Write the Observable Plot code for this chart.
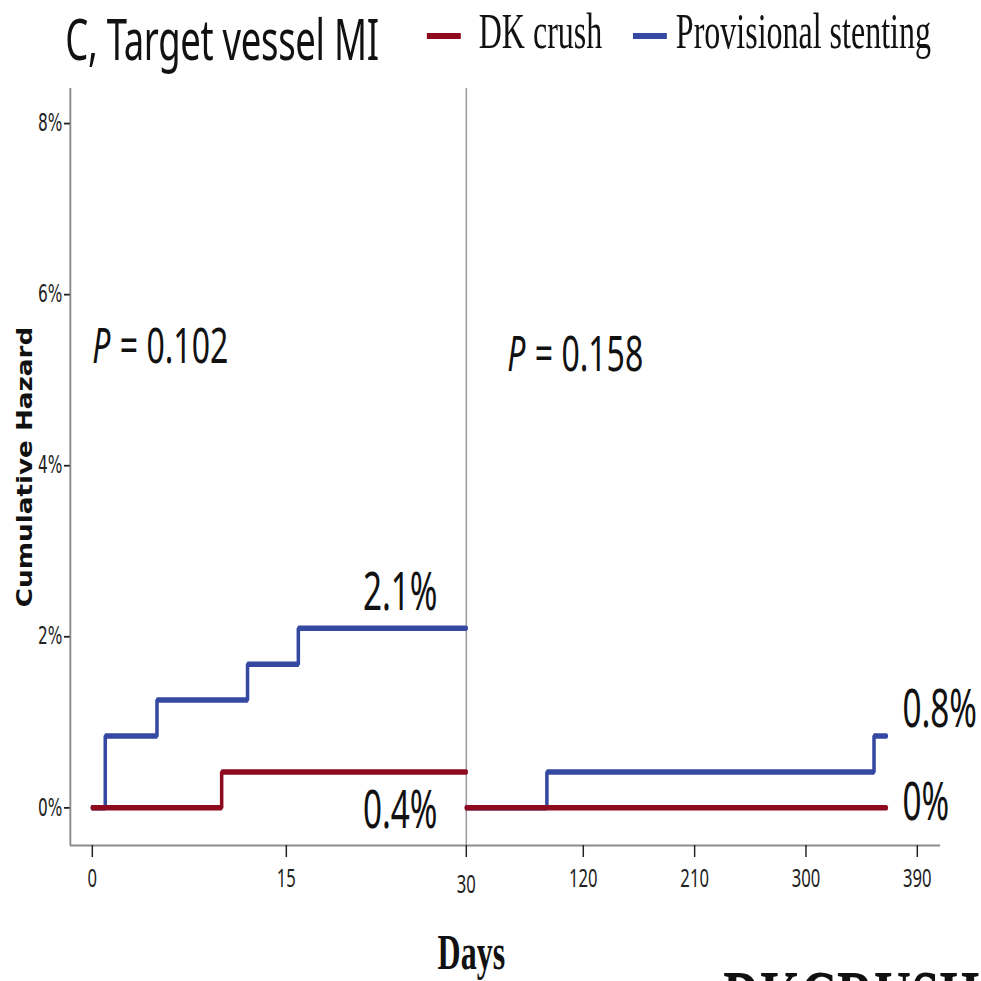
<!DOCTYPE html>
<html>
<head>
<meta charset="utf-8">
<script src="https://cdn.jsdelivr.net/npm/d3@7"></script>
<script src="https://cdn.jsdelivr.net/npm/@observablehq/plot@0.6"></script>
<style>
  html, body { margin: 0; padding: 0; background: #fff; overflow: hidden; }
  #page { width: 981px; height: 981px; overflow: hidden; position: relative; background: #fff; }
  /* the original figure is horizontally compressed: draw wide, then squeeze */
  #wrap { position: absolute; left: 0; top: 0; width: 1533px; height: 981px;
          transform: scaleX(0.64); transform-origin: 0 0; }
  #header { position: relative; height: 80px; }
  .t { position: absolute; white-space: nowrap; color: #111; }
  #title { left: 102px; top: 1px; font-family: "Noto Sans", sans-serif; font-size: 57px;
           line-height: 1.3; letter-spacing: -0.5px; }
  .sw { position: absolute; width: 53px; height: 6px; top: 33px; }
  .lab { position: absolute; top: -1px; font-family: "Liberation Serif", "Times New Roman", serif;
         font-size: 50px; line-height: 1.3; color: #111; white-space: nowrap; }
  #foot { left: 1130px; top: 947px; font-family: "Liberation Serif", serif; font-weight: bold;
          font-size: 80px; line-height: 1.3; color: #111; }
</style>
</head>
<body>
<div id="page"><div id="wrap">
  <div id="header">
    <span class="t" id="title">C, Target vessel MI</span>
  </div>
  <div id="chart"></div>
  <span class="t" id="foot">DKCRUSH</span>
</div></div>
<script>
// ---------------- data ----------------
const seriesNames  = ["DK crush", "Provisional stenting"];
const seriesColors = ["#8e0a1e", "#3548a2"];

// Panel 1: 0–30 days (cumulative hazard, %)
const p1DaysDK = [0, 10, 30];
const p1HazDK  = [0, 0.42, 0.42];
const p1DaysPS = [0, 1, 5, 12, 16, 30];
const p1HazPS  = [0, 0.84, 1.26, 1.68, 2.10, 2.10];

// Panel 2: 30–365 days
const p2DaysDK = [30, 365];
const p2HazDK  = [0, 0];
const p2DaysPS = [30, 92, 355, 365];
const p2HazPS  = [0, 0.42, 0.84, 0.84];

const pValues = ["0.102", "0.158"];
const xTicks  = [0, 15, 30, 120, 210, 300, 390];
const yTicks  = [0, 2, 4, 6, 8];

// ---------------- layout ----------------
// broken (piecewise) day axis: 0–30 on the left panel, 30–390 on the right
const xDomain = [-1.7, 0, 15, 30, 120, 390, 408.6];
const xRange  = [109.4, 143.75, 446.9, 728.1, 910.9, 1432.8, 1468.75];
const yDomain = [-0.44, 8.41];

const W = 1533, H = 901;
const fmtPct = v => (v === 0 ? "0" : v.toFixed(1)) + "%";

// legend (positions in the unsqueezed header)
const header = document.getElementById("header");
const swatchLeft = [667, 989], labelLeft = [748, 1056];
seriesNames.forEach((name, i) => {
  const sw = document.createElement("div");
  sw.className = "sw";
  sw.style.left = swatchLeft[i] + "px";
  sw.style.background = seriesColors[i];
  const lb = document.createElement("span");
  lb.className = "lab";
  lb.style.left = labelLeft[i] + "px";
  lb.textContent = name;
  header.append(sw, lb);
});

const segs = [
  {panel: 1, s: 1, days: p1DaysPS, haz: p1HazPS},
  {panel: 2, s: 1, days: p2DaysPS, haz: p2HazPS},
  {panel: 1, s: 0, days: p1DaysDK, haz: p1HazDK},
  {panel: 2, s: 0, days: p2DaysDK, haz: p2HazDK}
];
const rows = segs.flatMap(g => g.days.map((d, i) => ({
  day: d, haz: g.haz[i], series: seriesNames[g.s], key: g.panel + "-" + g.s
})));
const seg = (panel, s) => segs.find(g => g.panel === panel && g.s === s);

const labelFont = "Noto Sans, sans-serif";
const endLabel = (g, dx, dy, anchor) => Plot.text([g], {
  x: d => d.days[d.days.length - 1],
  y: d => d.haz[d.haz.length - 1],
  text: d => fmtPct(d.haz[d.haz.length - 1]),
  dx, dy, textAnchor: anchor,
  fontSize: 52, fontFamily: labelFont, fill: "#111"
});

const pStart = [0, 30];
const pMarks = pValues.flatMap((p, i) => {
  const off = i === 0 ? 0 : 64;
  const yv = i === 0 ? 5.385 : 5.30;
  return [
    Plot.text([p], {x: () => pStart[i], y: () => yv, text: () => "P", dx: off,
      textAnchor: "start", fontStyle: "italic", fontSize: 50, fontFamily: labelFont, fill: "#111"}),
    Plot.text([p], {x: () => pStart[i], y: () => yv, text: d => "= " + d, dx: off + 43,
      textAnchor: "start", fontSize: 50, fontFamily: labelFont, fill: "#111"})
  ];
});

const chart = Plot.plot({
  width: W, height: H,
  marginTop: 8, marginBottom: 136, marginLeft: 109, marginRight: 64,
  style: {background: "white", fontFamily: labelFont},
  x: {type: "linear", domain: xDomain, range: xRange},
  y: {domain: yDomain},
  color: {domain: seriesNames, range: seriesColors},
  marks: [
    // panel divider at 30 days and axis lines
    Plot.ruleX([30], {stroke: "#9a9a9a", strokeWidth: 2.4}),
    Plot.ruleX([xDomain[0]], {stroke: "#8c8c8c", strokeWidth: 3}),
    Plot.ruleY([yDomain[0]], {stroke: "#8c8c8c", strokeWidth: 2}),
    Plot.axisX(xTicks.filter(t => t !== 30), {tickSize: 12, tickPadding: 11, fontSize: 26,
      strokeWidth: 2.3, color: "#222", label: null}),
    Plot.axisX([30], {tickSize: 12, tickPadding: 17, fontSize: 26,
      strokeWidth: 2.3, color: "#222", label: null}),
    Plot.axisY(yTicks, {tickSize: 9, tickPadding: 3, fontSize: 24, fontFamily: "DejaVu Sans, sans-serif",
      tickFormat: d => d + "%", strokeWidth: 1.8, color: "#222", label: null}),
    // cumulative hazard step curves
    Plot.line(rows, {x: "day", y: "haz", z: "key", stroke: "series", strokeWidth: 5.5,
      curve: "step-after", strokeLinejoin: "miter"}),
    // end-of-period values
    endLabel(seg(1, 1), -45, -35, "end"),
    endLabel(seg(1, 0), -45, 39, "end"),
    endLabel(seg(2, 1), 25, -26, "start"),
    endLabel(seg(2, 0), 25, -5, "start"),
    ...pMarks,
    // axis titles
    Plot.text(["Days"], {frameAnchor: "bottom", textAnchor: "middle", lineAnchor: "middle",
      dx: -53, dy: 107, fontSize: 50,
      fontWeight: "bold", fontFamily: "Liberation Serif, serif", fill: "#111"}),
    Plot.text(["Cumulative Hazard"], {frameAnchor: "left", textAnchor: "middle", lineAnchor: "middle",
      dx: -70, rotate: -90, fontSize: 32,
      fontWeight: "bold", fontFamily: "DejaVu Sans, sans-serif", fill: "#111"})
  ]
});
document.getElementById("chart").append(chart);

// the rotated axis title is stretched taller in the original: compress along its length
d3.select(chart).selectAll("text")
  .filter(function () { return this.textContent === "Cumulative Hazard"; })
  .each(function () {
    const t = this.getAttribute("transform") || "";
    this.setAttribute("transform", t + " scale(0.82,1)");
  });
</script>
</body>
</html>
